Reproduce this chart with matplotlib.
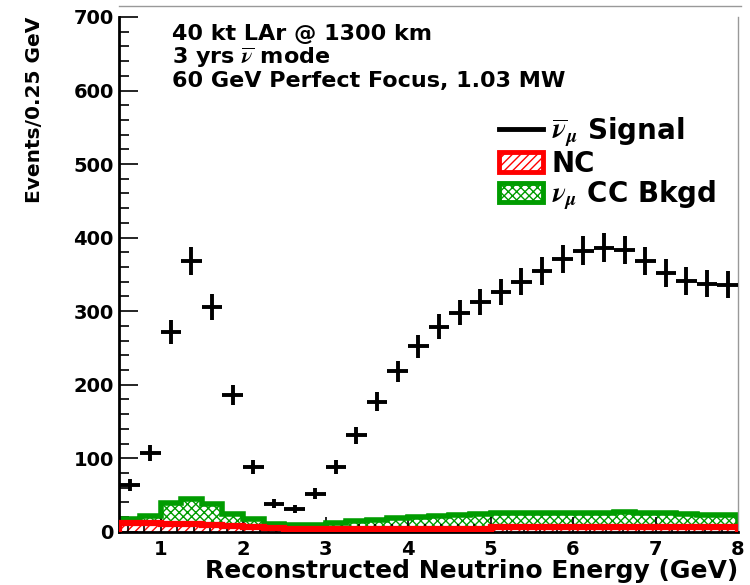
import numpy as np
import matplotlib
matplotlib.use("Agg")
import matplotlib.pyplot as plt
from matplotlib.lines import Line2D
from matplotlib.patches import Patch
from matplotlib.ticker import MultipleLocator

plt.rcParams["font.family"] = ["DejaVu Sans"]
plt.rcParams["font.weight"] = "bold"
plt.rcParams["mathtext.fontset"] = "stix"
plt.rcParams["hatch.linewidth"] = 1.0

# bin edges, 0.25 GeV wide
edges = np.arange(0.5, 8.01, 0.25)
centers = 0.5 * (edges[:-1] + edges[1:])

# anti-numu signal events per bin
signal = [64, 107, 272, 368, 306, 186, 88, 38, 31, 52,
          88, 131, 177, 218, 252, 279, 298, 313, 326, 340,
          355, 371, 382, 386, 383, 368, 352, 341, 337, 336]

# NC background per bin
nc = [12, 12, 11, 10, 9, 8, 6, 5, 4, 4,
      4, 4, 4, 4, 4, 4, 4, 4, 7, 7,
      7, 7, 7, 7, 7, 7, 7, 7, 7, 7]

# numu CC background per bin (stacked on top of NC)
cc = [6, 10, 28, 35, 29, 16, 11, 5, 5, 5,
      8, 11, 12, 15, 16, 17, 19, 20, 19, 19,
      19, 18, 18, 19, 20, 19, 18, 17, 16, 16]

nc = np.array(nc)
tot = nc + np.array(cc)
signal = np.array(signal)

red = "#ff0000"
green = "#009c00"

fig = plt.figure(figsize=(7.5, 5.85), dpi=100)
ax = fig.add_axes([0.159, 0.091, 0.825, 0.880])

# stacked backgrounds
ax.stairs(tot, edges, baseline=nc, fill=True, facecolor="white",
          edgecolor=green, hatch="xxxx", linewidth=0, zorder=1)
ax.stairs(nc, edges, baseline=0, fill=True, facecolor="white",
          edgecolor=red, hatch="////", linewidth=0, zorder=1)
ax.stairs(tot, edges, color=green, linewidth=4, zorder=2)
ax.stairs(nc, edges, color=red, linewidth=4.5, zorder=3)

# signal with poisson errors
ax.errorbar(centers, signal, xerr=0.125, yerr=np.sqrt(signal),
            fmt="none", ecolor="black", elinewidth=2.8, capsize=0, zorder=4)

ax.set_xlim(0.5, 8)
ax.set_ylim(0, 700)
ax.xaxis.set_major_locator(MultipleLocator(1))
ax.xaxis.set_minor_locator(MultipleLocator(0.2))
ax.yaxis.set_major_locator(MultipleLocator(100))
ax.yaxis.set_minor_locator(MultipleLocator(20))
ax.tick_params(axis="y", which="major", direction="in", length=13.5, width=1.2,
               labelsize=14, pad=4)
ax.tick_params(axis="y", which="minor", direction="in", length=7, width=1.2)
ax.tick_params(axis="x", which="major", direction="in", length=11, width=1.2,
               labelsize=14, pad=6)
ax.tick_params(axis="x", which="minor", direction="in", length=5.5, width=1.2)

ax.spines["top"].set_visible(False)
ax.spines["right"].set_color("#999999")
ax.spines["right"].set_linewidth(1)
ax.spines["left"].set_linewidth(2)
ax.spines["bottom"].set_linewidth(2)

ax.set_xlabel("Reconstructed Neutrino Energy (GeV)", fontsize=18,
              fontweight="bold", loc="right", labelpad=0)
ax.set_ylabel("Events/0.25 GeV", fontsize=14.5, fontweight="bold",
              loc="top", labelpad=21)

# frame line at top of canvas
fig.add_artist(Line2D([0.159, 0.988], [0.989, 0.989], transform=fig.transFigure,
                      color="#999999", linewidth=1))

fig.text(0.229, 1 - 24 / 585,
         "40 kt LAr @ 1300 km\n3 yrs $\\overline{\\nu}$ mode\n60 GeV Perfect Focus, 1.03 MW",
         fontsize=16, fontweight="bold", va="top", ha="left", linespacing=1.07)

handles = [Line2D([], [], color="black", linewidth=3.5),
           Patch(facecolor="white", edgecolor=red, hatch="////", linewidth=3.5),
           Patch(facecolor="white", edgecolor=green, hatch="xxxx", linewidth=3.5)]
labels = ["$\\overline{\\nu}_{\\mu}$ Signal", "NC", "$\\nu_{\\mu}$ CC Bkgd"]
ax.legend(handles, labels, loc="upper left", bbox_to_anchor=(0.665, 0.803),
          bbox_transform=fig.transFigure, frameon=False, fontsize=20,
          handlelength=1.6, handleheight=0.7, handletextpad=0.3,
          labelspacing=0.03, borderpad=0, borderaxespad=0)

fig.savefig("out.png", dpi=100)
